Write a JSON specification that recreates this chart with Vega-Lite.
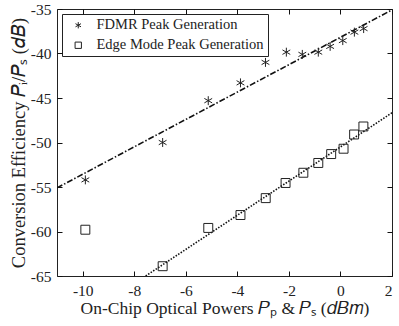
{
  "$schema": "https://vega.github.io/schema/vega-lite/v6.json",
  "width": 335,
  "height": 267,
  "autosize": "none",
  "padding": {"left": 57, "top": 9, "right": 7, "bottom": 50},
  "background": "white",
  "config": {
    "view": {"stroke": "#222", "strokeWidth": 1},
    "font": "Liberation Serif",
    "axis": {
      "domain": false,
      "grid": false,
      "ticks": true,
      "tickColor": "#111",
      "tickWidth": 1,
      "tickSize": 5,
      "offset": -5,
      "zindex": 1,
      "labelFont": "Liberation Serif",
      "labelFontSize": 15.5,
      "labelColor": "#222",
      "titleFont": "Liberation Serif",
      "titleFontWeight": "normal",
      "titleColor": "#222"
    }
  },
  "resolve": {"axis": {"x": "independent", "y": "independent"}},
  "layer": [
    {
      "data": {"values": [{"x": -11, "y": -55.1}, {"x": 2, "y": -35.1}]},
      "mark": {"type": "line", "color": "#111", "strokeWidth": 1.6, "strokeDash": [6, 2, 1.5, 2], "clip": true},
      "encoding": {
        "x": {"field": "x", "type": "quantitative", "scale": {"domain": [-11, 2], "nice": false, "zero": false},
          "axis": {"orient": "bottom", "offset": -5, "tickSize": 5, "zindex": 1, "values": [-10, -8, -6, -4, -2, 0, 2], "labelPadding": 7, "labelExpr": "replace(datum.label, '\u2212', '-')",
            "title": "On-Chip Optical Powers 𝑃ₚ & 𝑃ₛ (𝑑𝐵𝑚)", "titleFontSize": 17.5, "titlePadding": 1}},
        "y": {"field": "y", "type": "quantitative", "scale": {"domain": [-65, -35], "nice": false, "zero": false},
          "axis": {"orient": "left", "offset": -5, "tickSize": 5, "zindex": 1, "values": [-65, -60, -55, -50, -45, -40, -35], "labelPadding": 6, "labelExpr": "replace(datum.label, '\u2212', '-')",
            "title": "Conversion Efficiency 𝑃ᵢ/𝑃ₛ (𝑑𝐵)", "titleFontSize": 18.5, "titlePadding": 2}}
      }
    },
    {
      "data": {"values": [{"x": -7.56, "y": -65}, {"x": 2, "y": -46.66}]},
      "mark": {"type": "line", "color": "#111", "strokeWidth": 1.6, "strokeDash": [1.5, 1.5], "clip": true},
      "encoding": {
        "x": {"field": "x", "type": "quantitative", "axis": null},
        "y": {"field": "y", "type": "quantitative", "axis": null}
      }
    },
    {
      "data": {"values": [
        {"series": "FDMR Peak Generation", "x": -9.9, "y": -54.2},
        {"series": "FDMR Peak Generation", "x": -6.9, "y": -50.0},
        {"series": "FDMR Peak Generation", "x": -5.13, "y": -45.3},
        {"series": "FDMR Peak Generation", "x": -3.88, "y": -43.3},
        {"series": "FDMR Peak Generation", "x": -2.91, "y": -41.0},
        {"series": "FDMR Peak Generation", "x": -2.1, "y": -39.85},
        {"series": "FDMR Peak Generation", "x": -1.48, "y": -40.1},
        {"series": "FDMR Peak Generation", "x": -0.86, "y": -39.85},
        {"series": "FDMR Peak Generation", "x": -0.4, "y": -39.2},
        {"series": "FDMR Peak Generation", "x": 0.09, "y": -38.55},
        {"series": "FDMR Peak Generation", "x": 0.54, "y": -37.6},
        {"series": "FDMR Peak Generation", "x": 0.9, "y": -37.2},
        {"series": "Edge Mode Peak Generation", "x": -9.9, "y": -59.8},
        {"series": "Edge Mode Peak Generation", "x": -6.9, "y": -63.9},
        {"series": "Edge Mode Peak Generation", "x": -5.13, "y": -59.6},
        {"series": "Edge Mode Peak Generation", "x": -3.88, "y": -58.15},
        {"series": "Edge Mode Peak Generation", "x": -2.9, "y": -56.25},
        {"series": "Edge Mode Peak Generation", "x": -2.13, "y": -54.55},
        {"series": "Edge Mode Peak Generation", "x": -1.44, "y": -53.4},
        {"series": "Edge Mode Peak Generation", "x": -0.86, "y": -52.3},
        {"series": "Edge Mode Peak Generation", "x": -0.36, "y": -51.3},
        {"series": "Edge Mode Peak Generation", "x": 0.12, "y": -50.7},
        {"series": "Edge Mode Peak Generation", "x": 0.53, "y": -49.1},
        {"series": "Edge Mode Peak Generation", "x": 0.89, "y": -48.2}
      ]},
      "mark": {"type": "point", "filled": false, "stroke": "#222", "strokeWidth": 1, "size": 80, "opacity": 1},
      "encoding": {
        "x": {"field": "x", "type": "quantitative",
          "axis": {"orient": "top", "offset": -5, "tickSize": 5, "zindex": 1, "values": [-10, -8, -6, -4, -2, 0, 2], "labels": false, "title": null}},
        "y": {"field": "y", "type": "quantitative",
          "axis": {"orient": "right", "offset": -5, "tickSize": 5, "zindex": 1, "values": [-65, -60, -55, -50, -45, -40, -35], "labels": false, "title": null}},
        "shape": {"field": "series", "type": "nominal",
          "scale": {"domain": ["FDMR Peak Generation", "Edge Mode Peak Generation"],
            "range": ["M0,-1L0,1M-0.87,-0.5L0.87,0.5M-0.87,0.5L0.87,-0.5", "square"]},
          "legend": {"orient": "top-left", "offset": 5, "title": null, "strokeColor": "#222", "fillColor": "white",
            "padding": 4, "labelFont": "Liberation Serif", "labelFontSize": 14.5, "labelColor": "#222", "labelLimit": 0,
            "symbolStrokeColor": "#222", "symbolFillColor": "transparent", "symbolStrokeWidth": 1, "symbolSize": 40,
            "rowPadding": 5, "labelOffset": 11, "symbolOffset": 5}}
      }
    }
  ]
}
